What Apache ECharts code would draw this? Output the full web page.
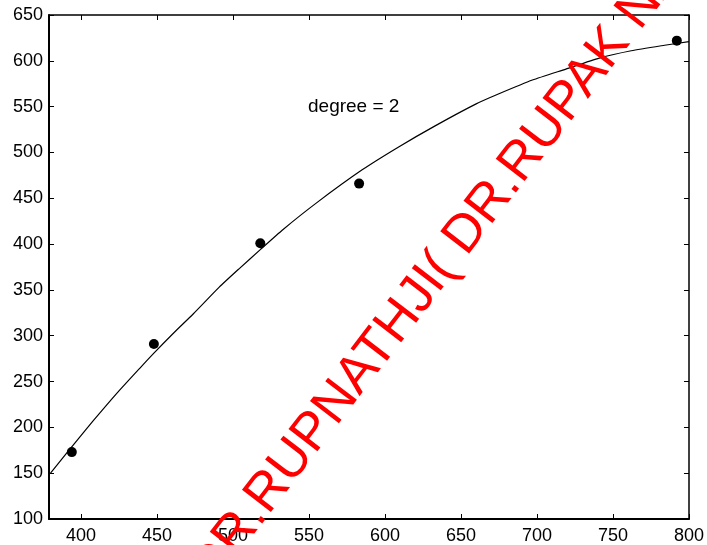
<!DOCTYPE html>
<html>
<head>
<meta charset="utf-8">
<script src="https://cdn.jsdelivr.net/npm/echarts@6/dist/echarts.min.js"></script>
<style>
html,body{margin:0;padding:0;background:#fff;}
#chart{width:707px;height:545px;}
</style>
</head>
<body>
<div id="chart"></div>
<script>
// Observed data points
const pointX = [394, 448, 518, 583, 792];
const pointY = [173, 291, 401, 466, 622];
// Fitted curve (degree 2)
const curveX = [380, 398, 408, 423, 439, 448, 461, 474, 491, 504, 518, 533, 555, 585, 609, 633, 660, 675, 697, 719, 741, 762, 784, 800];
const curveY = [150, 187, 207, 236, 265, 281, 303, 324, 353, 373, 394, 416, 445, 481, 506, 529, 553, 564, 579, 591, 603, 611, 617, 621];
// Tick labels
const xTicks = [400, 450, 500, 550, 600, 650, 700, 750, 800];
const yTicks = [100, 150, 200, 250, 300, 350, 400, 450, 500, 550, 600, 650];
const annotation = 'degree = 2';
const watermark = 'DR.RUPNATHJI( DR.RUPAK NATH )';

const FONT = "'Liberation Sans', Arial, Helvetica, sans-serif";
const chart = echarts.init(document.getElementById('chart'), null, {renderer: 'canvas'});

const scatterData = pointX.map((x, i) => [x, pointY[i]]);
const curveData = curveX.map((x, i) => [x, curveY[i]]);

function xAxisCfg(pos, show, lw) {
  return {
    type: 'value', position: pos, min: 379, max: 800,
    axisLine: {show: true, onZero: false, lineStyle: {color: '#000', width: lw}},
    axisTick: {show: true, inside: true, length: 5, customValues: xTicks, lineStyle: {color: '#000', width: 1}},
    axisLabel: {show: show, customValues: xTicks, color: '#000', fontSize: 18, fontFamily: FONT, margin: 8},
    splitLine: {show: false}
  };
}
function yAxisCfg(pos, show, lw) {
  return {
    type: 'value', position: pos, min: 100, max: 650, interval: 50,
    axisLine: {show: true, onZero: false, lineStyle: {color: '#000', width: lw}},
    axisTick: {show: true, inside: true, length: 5, lineStyle: {color: '#000', width: 1}},
    axisLabel: {show: show, color: '#000', fontSize: 18, fontFamily: FONT, margin: 6,
      formatter: v => (yTicks.indexOf(v) >= 0 ? String(v) : '')},
    splitLine: {show: false}
  };
}

const theta = 52.5 * Math.PI / 180;

chart.setOption({
  animation: false,
  backgroundColor: '#fff',
  grid: {left: 49, right: 16, top: 15, bottom: 25, containLabel: false},
  xAxis: [xAxisCfg('bottom', true, 2), xAxisCfg('top', false, 1.5)],
  yAxis: [yAxisCfg('left', true, 2), yAxisCfg('right', false, 1.5)],
  series: [
    {
      type: 'line', data: curveData, xAxisIndex: 0, yAxisIndex: 0,
      showSymbol: false, symbol: 'none', smooth: 0.2,
      lineStyle: {color: '#000', width: 1.2}, z: 2
    },
    {
      type: 'scatter', data: scatterData, xAxisIndex: 0, yAxisIndex: 0,
      symbol: 'circle', symbolSize: 10,
      itemStyle: {color: '#000', opacity: 1}, z: 3
    }
  ],
  graphic: [
    {
      type: 'text', left: 308, top: 97, z: 10,
      style: {text: annotation, fill: '#000', font: '19px ' + FONT}
    },
    {
      type: 'text', x: 201, y: 579, rotation: theta, z: 100,
      style: {text: watermark, fill: '#ff0000', font: '53px ' + FONT, align: 'left', verticalAlign: 'middle'}
    }
  ]
});
</script>
</body>
</html>
